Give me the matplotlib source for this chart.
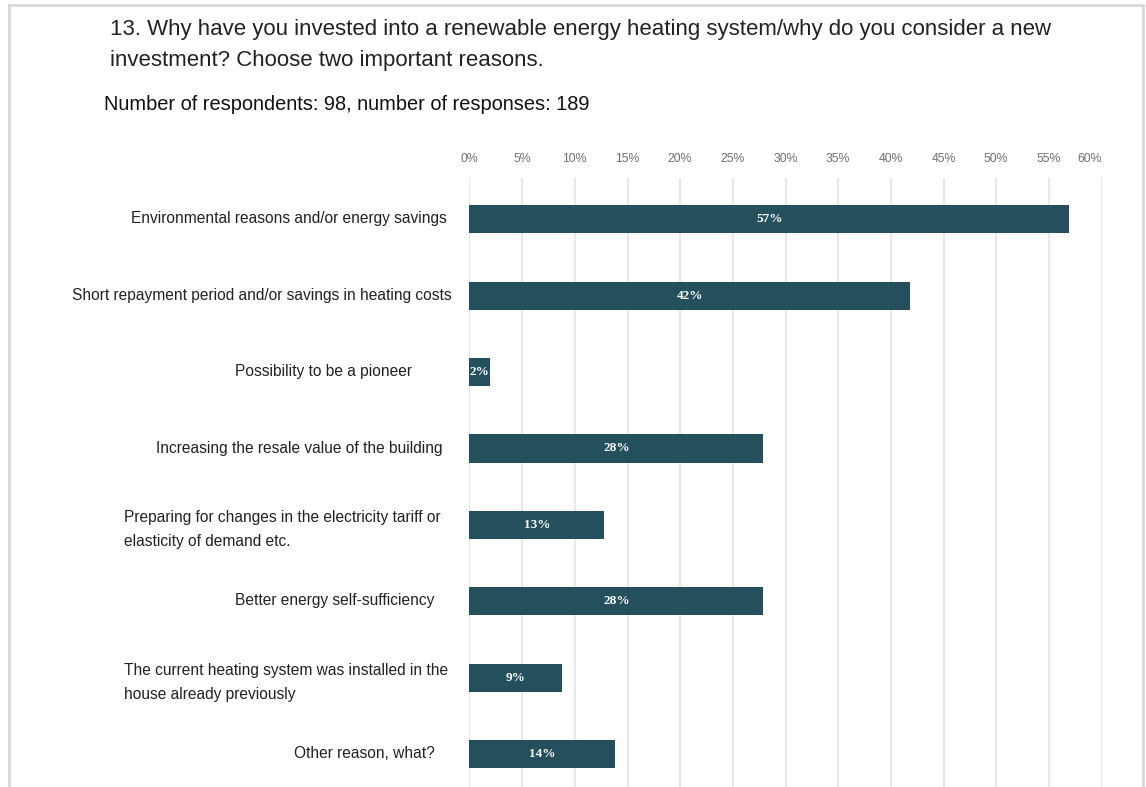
import matplotlib.pyplot as plt
from matplotlib.lines import Line2D

# --- data ---
reasons = [
    'Environmental reasons and/or energy savings',
    'Short repayment period and/or savings in heating costs',
    'Possibility to be a pioneer',
    'Increasing the resale value of the building',
    'Preparing for changes in the electricity tariff or\nelasticity of demand etc.',
    'Better energy self-sufficiency',
    'The current heating system was installed in the\nhouse already previously',
    'Other reason, what?',
]
shares = [56.9, 41.8, 1.9, 27.9, 12.8, 27.9, 8.8, 13.8]
tick_values = list(range(0, 61, 5))
tick_labels = [f'{t}%' for t in tick_values]

title = ('13. Why have you invested into a renewable energy heating system/why do you consider a new\n'
         'investment? Choose two important reasons.')
subtitle = 'Number of respondents: 98, number of responses: 189'

# --- layout ---
W, H = 1146, 787
BAR_COLOR = '#244f5d'
GRID_COLOR = '#e8e8e8'
# right edge (px) of each category label, as placed in the reference
label_right = [447, 452, 412, 443, 444, 434, 450, 435]
# multi-line labels start at the same left edge and sit a little lower
label_left = {4: 124, 6: 124}
multiline_drop = 5

plt.rcParams['font.family'] = ['Liberation Sans', 'DejaVu Sans']

fig = plt.figure(figsize=(W / 100, H / 100), dpi=100)
fig.patch.set_facecolor('white')

ax_left, ax_right = 469.5, 1101.5
ax_top, ax_bottom = 178, 787
ax = fig.add_axes([ax_left / W, 1 - ax_bottom / H,
                   (ax_right - ax_left) / W, (ax_bottom - ax_top) / H])

ypos = list(range(len(reasons)))
bars = ax.barh(ypos, shares, height=0.37, color=BAR_COLOR, zorder=3)

ax.set_xlim(0, 60)
ax.set_ylim(7.43, -0.54)
ax.set_xticks(tick_values)
ax.xaxis.tick_top()
ax.set_xticklabels(tick_labels, fontsize=8.8, color='#707070')
ax.tick_params(axis='x', length=0, pad=9)
ax.get_xticklabels()[-1].set_horizontalalignment('right')
ax.set_yticks([])
ax.grid(axis='x', color=GRID_COLOR, linewidth=1.5, zorder=0)
for s in ax.spines.values():
    s.set_visible(False)

# value labels centred in the bars, clipped to the bar like the original
for bar, v in zip(bars, shares):
    t = ax.text(v / 2, bar.get_y() + bar.get_height() / 2, f'{v:.0f}%',
                ha='center', va='center', color='white', fontsize=9.5,
                fontweight='bold', family='Liberation Serif', zorder=4)
    t.set_clip_path(bar)

# category labels
for i, (lab, v) in enumerate(zip(reasons, shares)):
    yc_px = 219 + i * 76.4
    if i in label_left:
        fig.text(label_left[i] / W, 1 - (yc_px + multiline_drop) / H, lab,
                 ha='left', va='center', fontsize=11.2, color='#222222',
                 linespacing=1.75)
    else:
        fig.text(label_right[i] / W, 1 - yc_px / H, lab, ha='right',
                 va='center', fontsize=11.2, color='#222222')

fig.text(110 / W, 1 - 45 / H, title, ha='left', va='center', fontsize=16,
         color='#222222', linespacing=1.6)
fig.text(104 / W, 1 - 105 / H, subtitle, ha='left', va='center', fontsize=14.4,
         color='#111111')

# light frame around the panel
frame = dict(color='#d9d9d9', linewidth=2, transform=fig.transFigure)
fig.add_artist(Line2D([9 / W, 1143 / W], [1 - 5 / H, 1 - 5 / H], **frame))
fig.add_artist(Line2D([9 / W, 9 / W], [0, 1 - 5 / H], **frame))
fig.add_artist(Line2D([1143 / W, 1143 / W], [0, 1 - 5 / H], **frame))

fig.savefig('out.png', dpi=100)
